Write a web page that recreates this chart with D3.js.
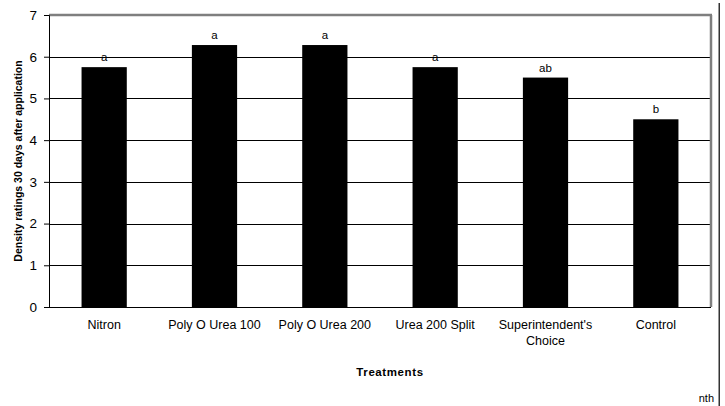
<!DOCTYPE html>
<html><head><meta charset="utf-8">
<script src="https://cdn.jsdelivr.net/npm/d3@7"></script>
<style>html,body{margin:0;padding:0;background:#fff;overflow:hidden;} svg{display:block;font-family:"Liberation Sans",Arial,sans-serif;}</style>
</head><body>
<script>
const categories = ["Nitron", "Poly O Urea 100", "Poly O Urea 200", "Urea 200 Split", "Superintendent's\nChoice", "Control"];
const values = [5.75, 6.28, 6.28, 5.75, 5.5, 4.5];
const letters = ["a", "a", "a", "a", "ab", "b"];
const yTicks = [0, 1, 2, 3, 4, 5, 6, 7];

const W = 725, H = 406;
const m = {l: 49, r: 14, t: 15, b: 99};
const svg = d3.select("body").append("svg").attr("width", W).attr("height", H);
const x = d3.scaleBand().domain(categories).range([m.l, W - m.r]).paddingInner(0.59).paddingOuter(0.295);
const y = d3.scaleLinear().domain([0, 7]).range([H - m.b, m.t]);
const py = v => Math.round(y(v)) + 0.5;
const x0 = m.l, x1 = W - m.r, yTop = Math.round(y(7)), yBot = Math.round(y(0));

// gridlines
svg.append("g").selectAll("line").data(yTicks.filter(t => t > 0 && t < 7)).join("line")
  .attr("x1", x0).attr("x2", x1).attr("y1", d => py(d)).attr("y2", d => py(d))
  .attr("stroke", "#000").attr("stroke-width", 1).attr("shape-rendering", "crispEdges");

// gray frame top and right, drawn as data-bound lines
const frameSegs = [[x0, yTop, x1 + 1, yTop], [x1, yTop, x1, yBot]];
svg.append("g").selectAll("line").data(frameSegs).join("line")
  .attr("x1", d => d[0]).attr("y1", d => d[1]).attr("x2", d => d[2]).attr("y2", d => d[3])
  .attr("stroke", "#7f7f7f").attr("stroke-width", 2.5);

// bars
svg.append("g").selectAll("rect").data(values).join("rect")
  .attr("x", (d, i) => x(categories[i])).attr("width", x.bandwidth())
  .attr("y", d => y(d)).attr("height", d => y(0) - y(d)).attr("fill", "#000");

// letters
svg.append("g").selectAll("text").data(letters).join("text")
  .attr("x", (d, i) => x(categories[i]) + x.bandwidth() / 2)
  .attr("y", (d, i) => y(values[i]) - 6)
  .attr("text-anchor", "middle").attr("font-size", 11.5).attr("fill", "#000").text(d => d);

// y axis
const ya = svg.append("g").attr("transform", `translate(${m.l},0)`)
  .call(d3.axisLeft(y).tickValues(yTicks).tickSize(5).tickPadding(7).tickFormat(d3.format("d")));
ya.select(".domain").attr("stroke", "#000");
ya.selectAll("text").attr("font-size", 13.5).attr("font-family", "Liberation Sans, Arial, sans-serif").attr("fill", "#000");

// x axis
const xa = svg.append("g").attr("transform", `translate(0,${yBot})`)
  .call(d3.axisBottom(x).tickSize(0).tickPadding(0).tickFormat(""));
xa.select(".domain").attr("stroke", "#000").attr("d", `M${x0},0.5H${x1}`);
const lbl = svg.append("g");
categories.forEach(c => {
  const t = lbl.append("text").attr("x", x(c) + x.bandwidth() / 2).attr("y", y(0) + 22)
    .attr("text-anchor", "middle").attr("font-size", 12.5).attr("fill", "#000");
  c.split("\n").forEach((s, k) => t.append("tspan").attr("x", x(c) + x.bandwidth() / 2).attr("dy", k ? 16 : 0).text(s));
});

// axis titles
svg.append("text").attr("x", 390).attr("y", 376).attr("text-anchor", "middle")
  .attr("font-size", 11.5).attr("font-weight", "bold").attr("letter-spacing", 0.6).text("Treatments");
svg.append("text").attr("transform", `translate(22,${(y(0) + y(7)) / 2}) rotate(-90)`)
  .attr("text-anchor", "middle").attr("font-size", 10.5).attr("font-weight", "bold").text("Density ratings 30 days after application");

// stray page elements
svg.append("g").selectAll("rect").data([[718.5, 3, 1.5, 403]]).join("rect")
  .attr("x", d => d[0]).attr("y", d => d[1]).attr("width", d => d[2]).attr("height", d => d[3])
  .attr("fill", "#333");
svg.append("text").attr("x", 714).attr("y", 402).attr("text-anchor", "end").attr("font-size", 11).text("nth");
</script>
</body></html>
